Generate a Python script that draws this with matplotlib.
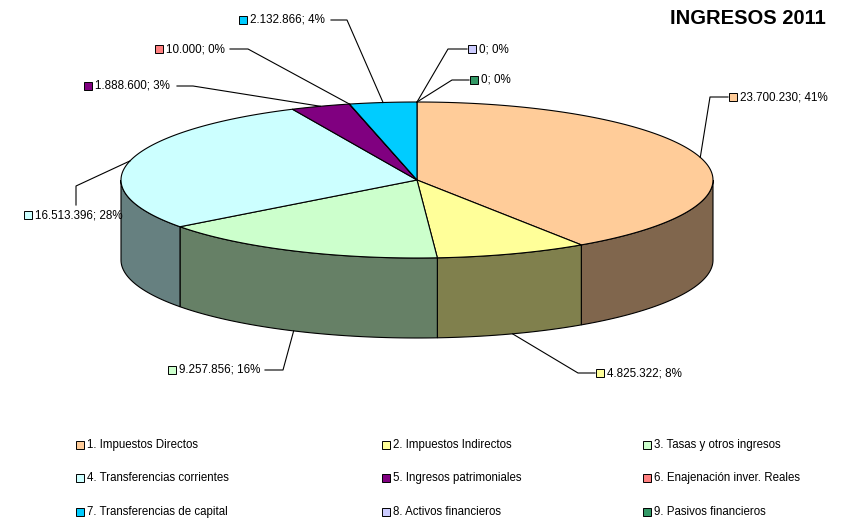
import numpy as np
import matplotlib.pyplot as plt
from matplotlib.patches import Polygon, Rectangle

categories = ["1. Impuestos Directos", "2. Impuestos Indirectos", "3. Tasas y otros ingresos",
              "4. Transferencias corrientes", "5. Ingresos patrimoniales", "6. Enajenación inver. Reales",
              "7. Transferencias de capital", "8. Activos financieros", "9. Pasivos financieros"]
values = [23700230, 4825322, 9257856, 16513396, 1888600, 10000, 2132866, 0, 0]
labels = ["23.700.230; 41%", "4.825.322; 8%", "9.257.856; 16%", "16.513.396; 28%",
          "1.888.600; 3%", "10.000; 0%", "2.132.866; 4%", "0; 0%", "0; 0%"]
colors = ["#FFCC99", "#FFFF99", "#CCFFCC", "#CCFFFF", "#800080",
          "#FF8080", "#00CCFF", "#CCCCFF", "#339966"]

# layout in pixels
cx, cy, ra, rb, depth = 417, 180, 296, 78, 80
box_pos = [(733, 97), (600, 373), (172, 370), (28, 215), (88, 86),
           (159, 49), (243, 20), (472, 49), (474, 80)]
elbows = [(710, 97), (578, 373), (283, 370), (76, 186), (193, 86),
          (248, 49), (347, 20), (448, 49), (452, 80)]
ends = [(728, 97), (595, 373), (265, 370), (76, 205), (177, 86),
        (230, 49), (331, 20), (467, 49), (469, 80)]

fig = plt.figure(figsize=(8.48, 5.21), dpi=100)
ax = fig.add_axes([0, 0, 1, 1])
ax.set_xlim(0, 848)
ax.set_ylim(521, 0)
ax.axis('off')

def pt(t, dz=0.0):
    r = np.radians(t)
    return cx + ra * np.sin(r), cy - rb * np.cos(r) + dz

def dark(c):
    c = c.lstrip('#')
    return tuple(int(c[i:i + 2], 16) / 255 * 0.5 for i in (0, 2, 4))

total = sum(values)
bounds = np.concatenate([[0], np.cumsum(values) / total * 360])

# side walls (front half only)
for i, v in enumerate(values):
    t0, t1 = max(bounds[i], 90), min(bounds[i + 1], 270)
    if v == 0 or t1 <= t0:
        continue
    ts = np.linspace(t0, t1, 80)
    top = [pt(t) for t in ts]
    bot = [pt(t, depth) for t in ts[::-1]]
    ax.add_patch(Polygon(top + bot, closed=True, facecolor=dark(colors[i]),
                         edgecolor='black', lw=0.8, zorder=2))

# top faces
for i, v in enumerate(values):
    if v == 0:
        continue
    ts = np.linspace(bounds[i], bounds[i + 1], 120)
    poly = [(cx, cy)] + [pt(t) for t in ts]
    ax.add_patch(Polygon(poly, closed=True, facecolor=colors[i],
                         edgecolor='black', lw=0.8, zorder=3))

# data labels with leader lines
for i in range(len(values)):
    mid = (bounds[i] + bounds[i + 1]) / 2
    if values[i] == 0:
        mid = 360
    dz = depth if 90 < mid < 270 else 0
    px, py = pt(mid, dz)
    ex, ey = elbows[i]
    fx, fy = ends[i]
    ax.plot([px, ex, fx], [py, ey, fy], color='black', lw=0.8, zorder=4)
    bx, by = box_pos[i]
    ax.add_patch(Rectangle((bx - 4, by - 4), 8, 8, facecolor=colors[i],
                           edgecolor='black', lw=0.7, zorder=5))
    ax.text(bx + 7, by, labels[i], fontsize=8.4, family=['Liberation Sans', 'DejaVu Sans'],
            va='center', ha='left', zorder=5)

ax.text(826, 18, "INGRESOS 2011", fontsize=14.5, fontweight='bold',
        family=['Liberation Sans', 'DejaVu Sans'], ha='right', va='center')

# legend
col_x = [80, 386, 647]
row_y = [445, 478, 512]
for i, name in enumerate(categories):
    x, y = col_x[i % 3], row_y[i // 3]
    ax.add_patch(Rectangle((x - 4, y - 4), 8, 8, facecolor=colors[i],
                           edgecolor='black', lw=0.7))
    ax.text(x + 7, y, name, fontsize=8.3, family=['Liberation Sans', 'DejaVu Sans'],
            va='center', ha='left')

fig.savefig("out.png", dpi=100)
